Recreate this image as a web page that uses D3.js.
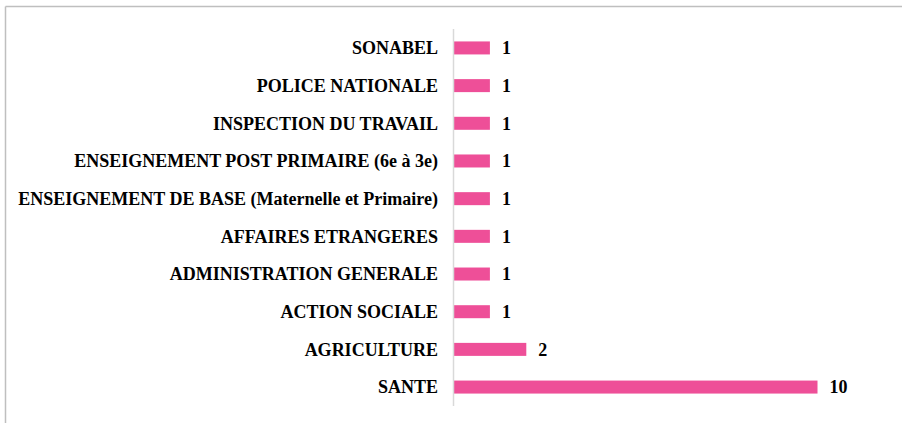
<!DOCTYPE html>
<html>
<head>
<meta charset="utf-8">
<script src="https://cdn.jsdelivr.net/npm/d3@7"></script>
<style>
  body { margin: 0; background: #fff; }
</style>
</head>
<body>
<div id="chart"></div>
<script>
var categories = ["SONABEL", "POLICE NATIONALE", "INSPECTION DU TRAVAIL",
  "ENSEIGNEMENT POST PRIMAIRE (6e à 3e)", "ENSEIGNEMENT DE BASE (Maternelle et Primaire)",
  "AFFAIRES ETRANGERES", "ADMINISTRATION GENERALE", "ACTION SOCIALE", "AGRICULTURE", "SANTE"];
var values = [1, 1, 1, 1, 1, 1, 1, 1, 2, 10];

var width = 902, height = 423;
var axisX = 453.5;
var font = "'Liberation Serif', 'Times New Roman', Times, serif";

var svg = d3.select("#chart").append("svg")
  .attr("width", width)
  .attr("height", height);

// frame (top and left edges only visible)
svg.append("line").attr("x1", 5.5).attr("x2", width).attr("y1", 6.5).attr("y2", 6.5)
  .attr("stroke", "#bfbfbf").attr("stroke-width", 1.5);
svg.append("line").attr("x1", 5.5).attr("x2", 5.5).attr("y1", 6.5).attr("y2", height)
  .attr("stroke", "#bfbfbf").attr("stroke-width", 1.5);

var x = d3.scaleLinear().domain([0, 10]).range([axisX, 817.5]);
var y = d3.scaleBand().domain(categories).range([29, 406]).paddingInner(0.655).paddingOuter(0.33);

var g = svg.append("g");

g.selectAll("rect.bar")
  .data(values)
  .join("rect")
  .attr("class", "bar")
  .attr("x", x(0))
  .attr("y", function(d, i) { return y(categories[i]); })
  .attr("width", function(d) { return x(d) - x(0); })
  .attr("height", y.bandwidth())
  .attr("fill", "#ee4f98");

g.append("line")
  .attr("x1", axisX).attr("x2", axisX)
  .attr("y1", 29).attr("y2", 406)
  .attr("stroke", "#d9d9d9").attr("stroke-width", 1.5);

g.selectAll("text.cat")
  .data(categories)
  .join("text")
  .attr("class", "cat")
  .attr("x", 438)
  .attr("y", function(d) { return y(d) + y.bandwidth() / 2; })
  .attr("dy", "0.35em")
  .attr("text-anchor", "end")
  .attr("font-family", font)
  .attr("font-weight", "bold")
  .attr("font-size", 18)
  .attr("fill", "#000")
  .text(function(d) { return d; });

g.selectAll("text.val")
  .data(values)
  .join("text")
  .attr("class", "val")
  .attr("x", function(d) { return x(d) + 12; })
  .attr("y", function(d, i) { return y(categories[i]) + y.bandwidth() / 2; })
  .attr("dy", "0.35em")
  .attr("font-family", font)
  .attr("font-weight", "bold")
  .attr("font-size", 18)
  .attr("fill", "#000")
  .text(function(d) { return d; });
</script>
</body>
</html>
